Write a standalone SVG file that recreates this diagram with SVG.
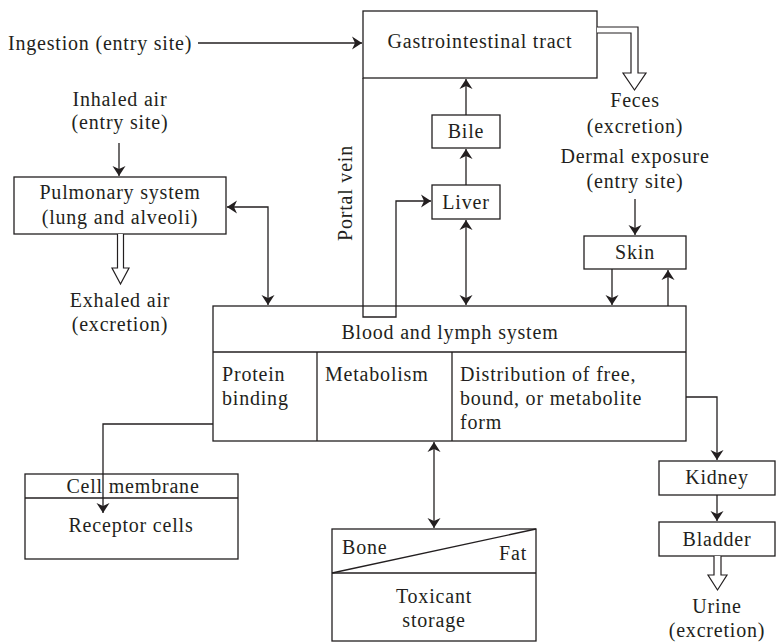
<svg xmlns="http://www.w3.org/2000/svg" width="776" height="642" viewBox="0 0 776 642">
<style>
text{font-family:'Liberation Serif','DejaVu Serif',serif;font-size:20px;fill:#231f20;letter-spacing:0.8px}
.c{text-anchor:middle}
.b{fill:#fff;stroke:#231f20;stroke-width:1.3}
.l{fill:none;stroke:#231f20;stroke-width:1.3}
.h{fill:#fff;stroke:#231f20;stroke-width:1.2}
</style>
<defs>
<marker id="a" viewBox="-11 -7 13 14" refX="0" refY="0" markerWidth="13" markerHeight="14" markerUnits="userSpaceOnUse" orient="auto-start-reverse">
<path d="M0,0 L-10,-6.5 L-7,0 L-10,6.5 Z" fill="#231f20"/>
</marker>
</defs>
<rect width="776" height="642" fill="#fff"/>
<g id="gi">
<rect class="b" x="363" y="11" width="234" height="67"/>
<text class="c" x="480" y="48">Gastrointestinal tract</text>
</g>
<g id="ingestion"><text x="8" y="50">Ingestion (entry site)</text></g>
<g id="feces"><text class="c" x="635" y="107">Feces</text><text class="c" x="635" y="133">(excretion)</text></g>
<g id="bile">
<rect class="b" x="432" y="115" width="68" height="33"/>
<text class="c" x="466" y="138">Bile</text>
</g>
<g id="liver">
<rect class="b" x="432" y="185" width="68" height="34"/>
<text class="c" x="466" y="209">Liver</text>
</g>
<g id="portal"><text class="c" transform="translate(352,193) rotate(-90)">Portal vein</text></g>
<g id="inhaled"><text class="c" x="120" y="106">Inhaled air</text><text class="c" x="120" y="129">(entry site)</text></g>
<g id="pulmonary">
<rect class="b" x="14" y="177" width="212" height="57"/>
<text class="c" x="120" y="199">Pulmonary system</text>
<text class="c" x="120" y="224">(lung and alveoli)</text>
</g>
<g id="exhaled"><text class="c" x="120" y="307">Exhaled air</text><text class="c" x="120" y="331">(excretion)</text></g>
<g id="dermal"><text class="c" x="635" y="163">Dermal exposure</text><text class="c" x="635" y="188">(entry site)</text></g>
<g id="skin">
<rect class="b" x="584" y="236" width="102" height="33"/>
<text class="c" x="635" y="259">Skin</text>
</g>
<g id="blood">
<rect class="b" x="213" y="306" width="473" height="135"/>
<line class="l" x1="213" y1="352" x2="686" y2="352"/>
<line class="l" x1="317" y1="352" x2="317" y2="441"/>
<line class="l" x1="452" y1="352" x2="452" y2="441"/>
<text class="c" x="450" y="339">Blood and lymph system</text>
<text x="222" y="381">Protein</text>
<text x="222" y="405">binding</text>
<text x="325" y="381">Metabolism</text>
<text x="460" y="381">Distribution of free,</text>
<text x="460" y="405">bound, or metabolite</text>
<text x="460" y="429">form</text>
</g>
<g id="cell">
<rect class="b" x="25" y="474" width="213" height="85"/>
<line class="l" x1="25" y1="498" x2="238" y2="498"/>
<text class="c" x="133" y="493">Cell membrane</text>
<text class="c" x="131" y="532">Receptor cells</text>
</g>
<g id="storage">
<rect class="b" x="332" y="529" width="204" height="112"/>
<line class="l" x1="332" y1="573" x2="536" y2="573"/>
<line class="l" x1="332" y1="573" x2="536" y2="529"/>
<text x="342" y="554">Bone</text>
<text x="527" y="560" text-anchor="end">Fat</text>
<text class="c" x="434" y="603">Toxicant</text>
<text class="c" x="434" y="627">storage</text>
</g>
<g id="kidney">
<rect class="b" x="659" y="461" width="116" height="34"/>
<text class="c" x="717" y="484">Kidney</text>
</g>
<g id="bladder">
<rect class="b" x="659" y="522" width="116" height="34"/>
<text class="c" x="717" y="546">Bladder</text>
</g>
<g id="urine"><text class="c" x="717" y="613">Urine</text><text class="c" x="717" y="637">(excretion)</text></g>
<g id="connectors">
<line class="l" x1="198" y1="43" x2="362" y2="43" marker-end="url(#a)"/>
<line class="l" x1="466" y1="115" x2="466" y2="79" marker-end="url(#a)"/>
<line class="l" x1="466" y1="185" x2="466" y2="149" marker-end="url(#a)"/>
<line class="l" x1="466" y1="220" x2="466" y2="305" marker-start="url(#a)" marker-end="url(#a)"/>
<polyline class="l" points="363,78 363,317 396,317 396,201 431,201" marker-end="url(#a)"/>
<line class="l" x1="119" y1="143" x2="119" y2="176" marker-end="url(#a)"/>
<polyline class="l" points="227,207 268,207 268,305" marker-start="url(#a)" marker-end="url(#a)"/>
<line class="l" x1="635" y1="199" x2="635" y2="235" marker-end="url(#a)"/>
<line class="l" x1="612" y1="269" x2="612" y2="305" marker-end="url(#a)"/>
<line class="l" x1="668" y1="306" x2="668" y2="270" marker-end="url(#a)"/>
<polyline class="l" points="686,397 717,397 717,460" marker-end="url(#a)"/>
<line class="l" x1="717" y1="495" x2="717" y2="521" marker-end="url(#a)"/>
<polyline class="l" points="213,424 103,424 103,513" marker-end="url(#a)"/>
<line class="l" x1="434" y1="442" x2="434" y2="528" marker-start="url(#a)" marker-end="url(#a)"/>
<path class="h" d="M597,27 H638 V73 H646 L634.5,90 L623,73 H631 V33 H597"/>
<path class="h" d="M117.5,234 V268 H112 L120.5,284 L129,268 H123.5 V234"/>
<path class="h" d="M714,556 V575 H708 L717.5,590 L727,575 H721 V556"/>
</g>
</svg>
